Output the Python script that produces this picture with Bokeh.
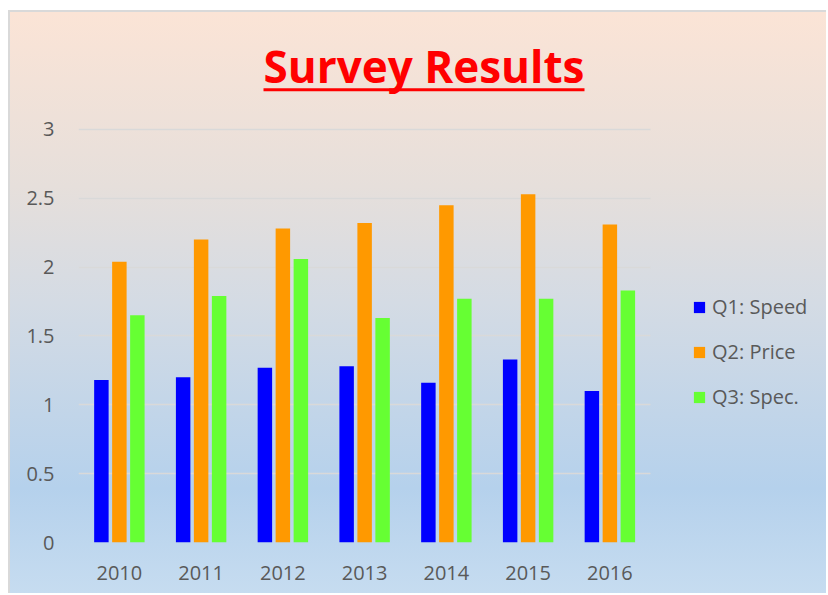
from bokeh.plotting import figure
from bokeh.models import ColumnDataSource, Legend, LegendItem, Label, BoxAnnotation, FixedTicker, Range1d
from bokeh.transform import dodge
from bokeh.embed import file_html
from bokeh.resources import INLINE

years = ["2010", "2011", "2012", "2013", "2014", "2015", "2016"]
q1_speed = [1.18, 1.20, 1.27, 1.28, 1.16, 1.33, 1.10]
q2_price = [2.04, 2.20, 2.28, 2.32, 2.45, 2.53, 2.31]
q3_spec = [1.65, 1.79, 2.06, 1.63, 1.77, 1.77, 1.83]
series_names = ["Q1: Speed", "Q2: Price", "Q3: Spec."]
y_ticks = [0, 0.5, 1, 1.5, 2, 2.5, 3]

pos = list(range(len(years)))
source = ColumnDataSource(dict(pos=pos, year=years, q1=q1_speed, q2=q2_price, q3=q3_spec))

# the frame extends above the top tick and right of the last category
# so that the title and legend can be drawn inside it
p = figure(x_range=Range1d(-0.5, 8.552), y_range=Range1d(0, 3.719), width=818, height=583,
           output_backend="svg", toolbar_location=None,
           min_border_left=68, min_border_right=10, min_border_top=18, min_border_bottom=53)
p.styles = {
    "background": "linear-gradient(180deg, #fbe4d6 0%, #e6dfdb 30%, #d4dbe4 50%, #b5d1ec 82%, #c6dcf0 100%)",
    "border-left": "2px solid #d9d9d9",
    "border-top": "2px solid #d9d9d9",
    "margin-top": "10px",
    "margin-left": "8px",
}
p.background_fill_alpha = 0
p.border_fill_alpha = 0
p.outline_line_color = None

label_color = "#595959"
font = "Open Sans"

r1 = p.vbar(x=dodge("pos", -0.22), top="q1", width=0.177, source=source,
            fill_color="#0000ff", line_color=None)
r2 = p.vbar(x=dodge("pos", 0.0), top="q2", width=0.177, source=source,
            fill_color="#ff9900", line_color=None)
r3 = p.vbar(x=dodge("pos", 0.22), top="q3", width=0.177, source=source,
            fill_color="#66ff33", line_color=None)

p.xaxis.ticker = FixedTicker(ticks=pos)
p.xaxis.major_label_overrides = {i: y for i, y in zip(pos, years)}
p.yaxis.ticker = FixedTicker(ticks=y_ticks)
p.yaxis.major_label_overrides = {0: "0", 0.5: "0.5", 1: "1", 1.5: "1.5", 2: "2", 2.5: "2.5", 3: "3"}
for ax in (p.xaxis, p.yaxis):
    ax.axis_line_color = None
    ax.major_tick_line_color = None
    ax.minor_tick_line_color = None
    ax.major_label_text_font = font
    ax.major_label_text_font_size = "20px"
    ax.major_label_text_color = label_color
p.yaxis.major_label_standoff = 18
p.xaxis.major_label_standoff = 17

p.xgrid.grid_line_color = None
p.ygrid.grid_line_color = "#d9d9d9"
p.ygrid.grid_line_width = 1.5
p.ygrid.cross_bounds = (-0.5, len(years) - 0.5)

legend = Legend(items=[LegendItem(label=series_names[0], renderers=[r1]),
                       LegendItem(label=series_names[1], renderers=[r2]),
                       LegendItem(label=series_names[2], renderers=[r3])],
                location=(614, 132))
legend.background_fill_alpha = 0
legend.border_line_color = None
legend.padding = 0
legend.margin = 0
legend.glyph_width = 14
legend.glyph_height = 14
legend.label_height = 14
legend.spacing = 18
legend.label_standoff = 6
legend.label_text_font = font
legend.label_text_font_size = "20px"
legend.label_text_color = label_color
p.add_layout(legend)

title = Label(x=345.5, y=477, x_units="screen", y_units="screen", text="Survey Results",
              text_align="center", text_baseline="alphabetic", text_font=font,
              text_font_size="44px", text_font_style="bold", text_color="#ff0000")
p.add_layout(title)
underline = BoxAnnotation(left=185, right=506, bottom=451.3, top=454.3,
                          left_units="screen", right_units="screen",
                          bottom_units="screen", top_units="screen",
                          fill_color="#ff0000", fill_alpha=1, line_color=None)
p.add_layout(underline)

open("out.html", "w").write(file_html(p, INLINE))
